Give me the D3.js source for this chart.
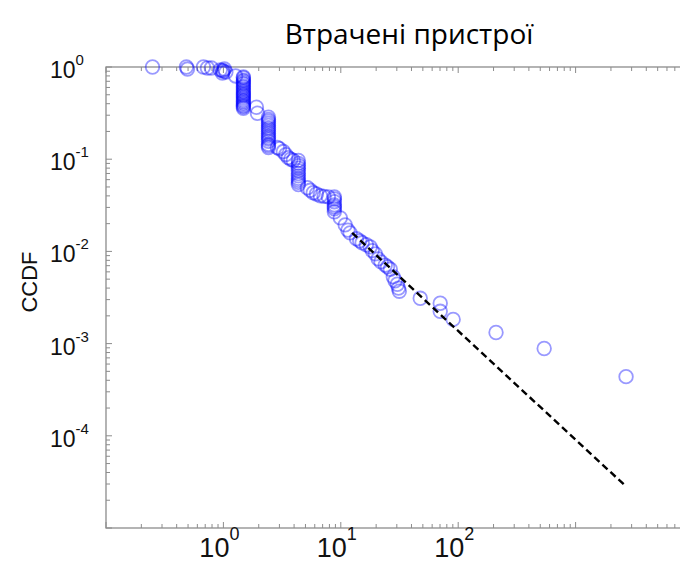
<!DOCTYPE html>
<html>
<head>
<meta charset="utf-8">
<script src="https://cdn.jsdelivr.net/npm/d3@7"></script>
<style>
  body { margin: 0; background: #fff; }
  svg { display: block; }
</style>
</head>
<body>
<svg id="chart" width="680" height="563"></svg>
<script>
// CCDF of lost devices (log-log)
var lossSize = [0.249, 0.484, 0.494, 0.676, 0.731, 0.79, 0.94, 0.98, 1.02, 1.0, 0.98, 1.05, 1.27,
    1.48, 1.48, 1.48, 1.48, 1.48, 1.48, 1.48, 1.48, 1.48, 1.48, 1.48,
    1.48, 1.48, 1.48, 1.48, 1.48, 1.48, 1.48, 1.48, 1.48, 1.48, 1.48,
    1.91, 1.95,
    2.42, 2.42, 2.42, 2.42, 2.42, 2.42, 2.42, 2.42,
    2.42, 2.42, 2.42, 2.42, 2.42, 2.42, 2.42, 2.42,
    2.88, 3.0, 3.24, 3.4, 3.57, 3.75, 3.94,
    4.35, 4.35, 4.35, 4.35, 4.35, 4.35, 4.35, 4.35, 4.35, 4.35, 4.35,
    5.19, 5.5, 5.83, 6.2, 6.69, 7.2, 7.83,
    8.81, 8.81, 8.81, 8.81, 8.81, 8.81, 8.81,
    9.9, 10.9, 11.5, 12.0, 13.6, 14.5, 15.2, 16.5, 17.8, 18.5, 19.7, 20.8, 22, 23.9, 25, 26.4, 28.0, 29, 30.3, 31, 31.5,
    47.5, 70.3, 70.3, 90.6, 210, 540, 2690];
var ccdf = [1.0, 1.0, 0.95, 1.0, 0.975, 0.975, 0.93, 0.86, 0.95, 0.9, 0.92, 0.88, 0.80,
    0.78, 0.72, 0.67, 0.62, 0.575, 0.53, 0.495, 0.46, 0.425, 0.395, 0.357,
    0.76, 0.70, 0.65, 0.60, 0.55, 0.51, 0.48, 0.44, 0.41, 0.38, 0.37,
    0.366, 0.315,
    0.285, 0.258, 0.233, 0.211, 0.19, 0.172, 0.156, 0.134,
    0.27, 0.245, 0.22, 0.20, 0.18, 0.165, 0.145, 0.14,
    0.134, 0.13, 0.121, 0.112, 0.104, 0.10, 0.097,
    0.097, 0.085, 0.075, 0.066, 0.059, 0.053, 0.09, 0.08, 0.07, 0.062, 0.056,
    0.049, 0.046, 0.0433, 0.042, 0.0402, 0.0395, 0.039,
    0.039, 0.0346, 0.0305, 0.0269, 0.037, 0.032, 0.029,
    0.0231, 0.0194, 0.017, 0.0159, 0.0137, 0.013, 0.0124, 0.0118, 0.0112, 0.0102, 0.0094, 0.0083, 0.0077, 0.0071, 0.0068, 0.0064, 0.0053, 0.0048, 0.0044, 0.0040, 0.0037,
    0.0031, 0.00274, 0.00224, 0.00183, 0.00132, 0.000885, 0.000438];

// power-law fit (dashed)
var fitX = [12.5, 2630];
var fitY = [0.0159, 0.000029];

var xLabelExp = [0, 1, 2];        // the picture only labels these
var yLabelExp = [0, -1, -2, -3, -4];

var svg = d3.select("#chart");

var x = d3.scaleLog().domain([0.1, 1e4]).range([106, 693]);
var y = d3.scaleLog().domain([1e-5, 1]).range([528, 67]);

var axisCol = "#8c8c8c";

// tick values: decades plus 2..9 minors
function logTicks(lo, hi) {
    var t = [];
    for (var e = lo; e < hi; e++) {
        for (var m = 1; m <= 9; m++) t.push({v: m * Math.pow(10, e), major: m == 1});
    }
    t.push({v: Math.pow(10, hi), major: true});
    return t;
}
var xt = logTicks(-1, 4);
var yt = logTicks(-5, 0);

var x0 = x.range()[0], x1 = x.range()[1];
var y0 = y.range()[0], y1 = y.range()[1];

// box
svg.append("rect")
    .attr("x", x0).attr("y", y1)
    .attr("width", x1 - x0).attr("height", y0 - y1)
    .attr("fill", "none").attr("stroke", axisCol).attr("stroke-width", 1.3);

// ticks pointing inward on all sides
var tg = svg.append("g").attr("stroke", axisCol).attr("stroke-width", 1);
tg.selectAll(".xb").data(xt).enter().append("line")
    .attr("x1", function(d) { return x(d.v); }).attr("x2", function(d) { return x(d.v); })
    .attr("y1", y0).attr("y2", function(d) { return y0 - (d.major ? 6 : 4); });
tg.selectAll(".xt").data(xt).enter().append("line")
    .attr("x1", function(d) { return x(d.v); }).attr("x2", function(d) { return x(d.v); })
    .attr("y1", y1).attr("y2", function(d) { return y1 + (d.major ? 6 : 4); });
tg.selectAll(".yl").data(yt).enter().append("line")
    .attr("y1", function(d) { return y(d.v); }).attr("y2", function(d) { return y(d.v); })
    .attr("x1", x0).attr("x2", function(d) { return x0 + (d.major ? 6 : 4); });

// tick labels
var font = "'Liberation Sans', Arial, sans-serif";
var yl = svg.selectAll(".ylab").data(yLabelExp).enter().append("text")
    .attr("x", 50)
    .attr("y", function(d) { return y(Math.pow(10, d)) + 11; })
    .style("font-family", font).style("font-size", "23px").attr("fill", "#111")
    .text("10");
yl.append("tspan").attr("dy", -13).style("font-size", "15px")
    .text(function(d) { return d; });

var xl = svg.selectAll(".xlab").data(xLabelExp).enter().append("text")
    .attr("x", function(d) { return x(Math.pow(10, d)) - 4; })
    .attr("y", 557)
    .attr("text-anchor", "middle")
    .style("font-family", font).style("font-size", "27px").attr("fill", "#111")
    .text("10");
xl.append("tspan").attr("dy", -17).style("font-size", "18px")
    .text(function(d) { return d; });

// y label
svg.append("text")
    .attr("transform", "translate(37,282) rotate(-90)")
    .attr("text-anchor", "middle")
    .style("font-family", font).style("font-size", "22px").attr("fill", "#111")
    .text("CCDF");

// title
svg.append("text")
    .attr("x", 409).attr("y", 44)
    .attr("text-anchor", "middle")
    .style("font-family", "'Open Sans', 'Noto Sans', sans-serif").style("font-size", "28px")
    .attr("fill", "#000")
    .text("Втрачені пристрої");

// data points
svg.append("g").selectAll("circle")
    .data(lossSize.map(function(v, i) { return [v, ccdf[i]]; }))
    .enter().append("circle")
    .attr("cx", function(d) { return x(d[0]); })
    .attr("cy", function(d) { return y(d[1]); })
    .attr("r", 6.8)
    .attr("fill", "none")
    .attr("stroke", "#0000ff")
    .attr("stroke-opacity", 0.4)
    .attr("stroke-width", 1.8);

// fit line
svg.append("path")
    .datum(fitX.map(function(v, i) { return [v, fitY[i]]; }))
    .attr("d", d3.line().x(function(d) { return x(d[0]); }).y(function(d) { return y(d[1]); }))
    .attr("fill", "none")
    .attr("stroke", "#000")
    .attr("stroke-width", 2.4)
    .attr("stroke-dasharray", "7,4");
</script>
</body>
</html>
